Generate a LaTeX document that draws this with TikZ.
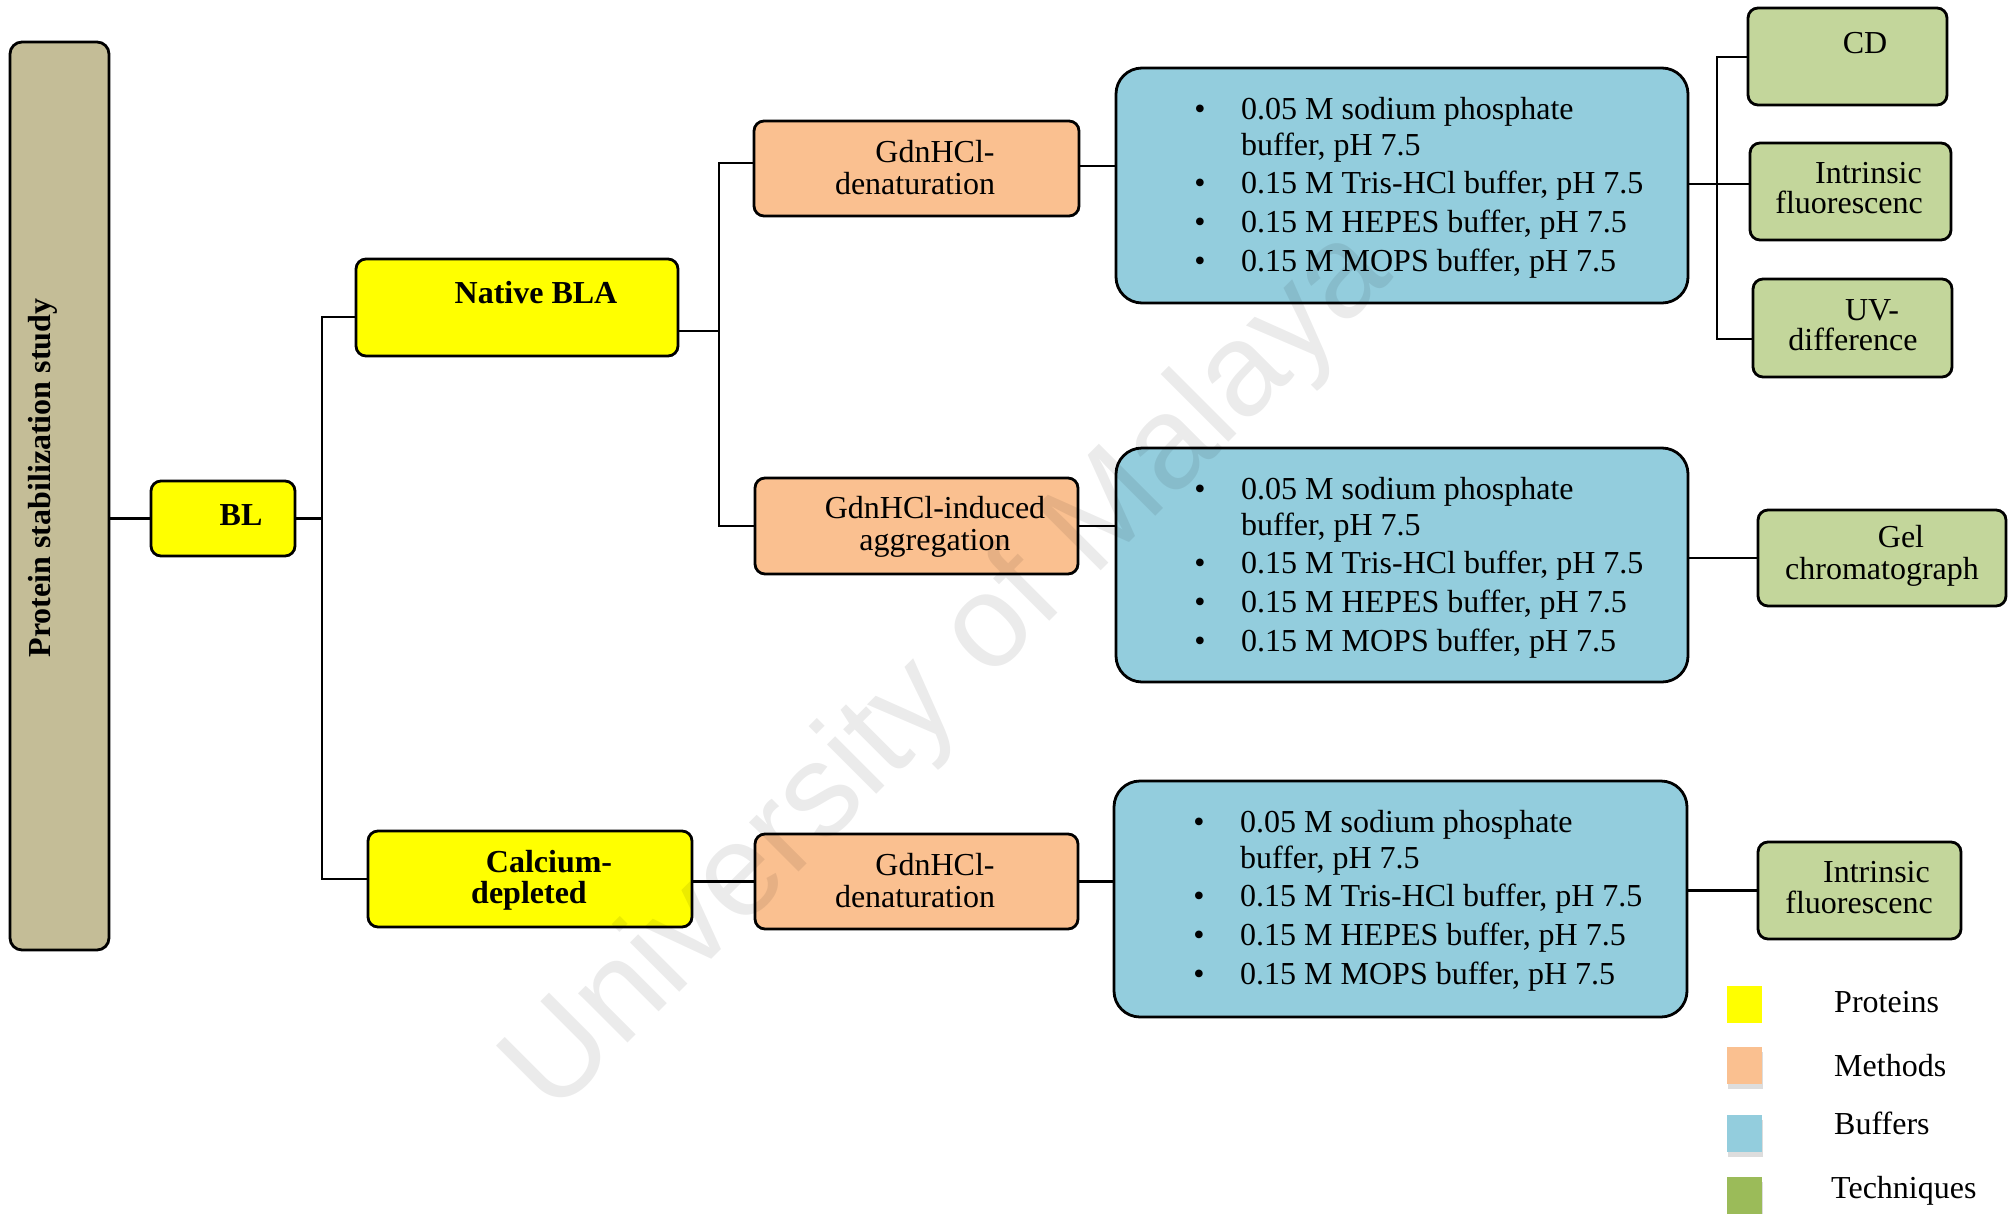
\documentclass[tikz,border=0pt]{standalone}
\usepackage{fontspec}
\setmainfont{Liberation Serif}
\newfontfamily\wmfont{Liberation Sans}
\usetikzlibrary{backgrounds,shadows}
\definecolor{tan}{HTML}{C4BD97}
\definecolor{prot}{HTML}{FFFF00}
\definecolor{meth}{HTML}{FAC090}
\definecolor{buff}{HTML}{93CDDD}
\definecolor{tech}{HTML}{C3D69B}
\definecolor{techleg}{HTML}{9BBB59}
\begin{document}
\begin{tikzpicture}[x=1pt,y=-1pt,
  boxstyle/.style={draw=black, line width=2.8pt, rounded corners=10pt, inner sep=0pt},
  bigbox/.style={boxstyle, rounded corners=26pt, fill=buff},
  txt/.style={font=\fontsize{32pt}{38pt}\selectfont, inner sep=0pt, anchor=base},
  btxt/.style={txt, font=\fontsize{32pt}{38pt}\selectfont\bfseries},
  ltxt/.style={txt, anchor=base west},
  rtxt/.style={txt, anchor=base east},
  conn/.style={line width=2.5pt, draw=black},
  legsq/.style={inner sep=0pt, minimum width=35pt, minimum height=37pt, draw=none},
  legshadow/.style={drop shadow={shadow xshift=1pt, shadow yshift=-5pt, opacity=0.22, fill=black!60}}
]
\useasboundingbox (0,0) rectangle (2013,1213);

% ---- boxes ----
\node[boxstyle, rounded corners=12pt, fill=tan, minimum width=99pt, minimum height=908pt] (ps) at (59.5,496) {};
\node[boxstyle, fill=prot, minimum width=144pt, minimum height=75pt] (bl) at (223,518.5) {};
\node[boxstyle, fill=prot, minimum width=322pt, minimum height=97pt] (nat) at (517,307.5) {};
\node[boxstyle, fill=prot, minimum width=324pt, minimum height=96pt] (cal) at (530,879) {};
\node[boxstyle, fill=meth, minimum width=325pt, minimum height=95pt] (m1) at (916.5,168.5) {};
\node[boxstyle, fill=meth, minimum width=323pt, minimum height=96pt] (m2) at (916.5,526) {};
\node[boxstyle, fill=meth, minimum width=323pt, minimum height=95pt] (m3) at (916.5,881.5) {};
\node[bigbox, minimum width=572pt, minimum height=235pt] (b1) at (1402,185.5) {};
\node[bigbox, minimum width=572pt, minimum height=234pt] (b2) at (1402,565) {};
\node[bigbox, minimum width=573pt, minimum height=236pt] (b3) at (1400.5,899) {};
\node[boxstyle, fill=tech, minimum width=199pt, minimum height=97pt] (cd) at (1847.5,56.5) {};
\node[boxstyle, fill=tech, minimum width=201pt, minimum height=97pt] (if1) at (1850.5,191.5) {};
\node[boxstyle, fill=tech, minimum width=199pt, minimum height=98pt] (uv) at (1852.5,328) {};
\node[boxstyle, fill=tech, minimum width=248pt, minimum height=96pt] (gel) at (1882,558) {};
\node[boxstyle, fill=tech, minimum width=203pt, minimum height=97pt] (if2) at (1859.5,890.5) {};

% ---- junction points ----
\coordinate (j1a) at (322,317);
\coordinate (j1b) at (322,879);
\coordinate (j2a) at (719,163);
\coordinate (j2b) at (719,526);
\coordinate (j3a) at (1717,57);
\coordinate (j3m) at (1717,184);
\coordinate (j3b) at (1717,339);

% ---- connectors ----
\begin{scope}[on background layer]
\draw[conn] (ps.east |- bl.west) -- (bl.west);
\draw[conn] (bl.east) -- (bl.east -| j1a);
\draw[conn] (nat.west |- j1a) -- (j1a) -- (j1b) -- (cal.west);
\draw[conn] ([yshift=-23.5pt]nat.east) -- ([yshift=-23.5pt]nat.east -| j2a);
\draw[conn] (m1.west |- j2a) -- (j2a) -- (j2b) -- (m2.west);
\draw[conn] ([yshift=2.5pt]m1.east) -- ([yshift=2.5pt]m1.east -| b1.west);
\draw[conn] (m2.east) -- (m2.east -| b2.west);
\draw[conn] (m3.west -| cal.east) -- (m3.west);
\draw[conn] (m3.east) -- (m3.east -| b3.west);
\draw[conn] (b1.east |- j3m) -- (if1.west |- j3m);
\draw[conn] (cd.west |- j3a) -- (j3a) -- (j3b) -- (uv.west |- j3b);
\draw[conn] (b2.east |- gel.west) -- (gel.west);
\draw[conn] (b3.east |- if2.west) -- (if2.west);
\end{scope}

% ---- texts ----
\node[btxt, rotate=90] (psT) at (50,478) {Protein stabilization study};
\node[btxt] (blT) at (241,525) {BL};
\node[btxt] (natT) at (536,303) {Native BLA};
\node[btxt] (calT1) at (549,872) {Calcium-};
\node[btxt] (calT2) at (529,903) {depleted};

\node[txt] (m1T1) at (935,162) {GdnHCl-};
\node[txt] (m1T2) at (915,194) {denaturation};
\node[txt] (m2T1) at (935,518) {GdnHCl-induced};
\node[txt] (m2T2) at (935,550) {aggregation};
\node[txt] (m3T1) at (935,875) {GdnHCl-};
\node[txt] (m3T2) at (915,907) {denaturation};

% buffers 1
\node[txt] (b1d1) at (1200,119) {•};
\node[ltxt] (b1l1) at (1241,119) {0.05 M sodium phosphate};
\node[ltxt] (b1l2) at (1241,155) {buffer, pH 7.5};
\node[txt] (b1d3) at (1200,193) {•};
\node[ltxt] (b1l3) at (1241,193) {0.15 M Tris-HCl buffer, pH 7.5};
\node[txt] (b1d4) at (1200,232) {•};
\node[ltxt] (b1l4) at (1241,232) {0.15 M HEPES buffer, pH 7.5};
\node[txt] (b1d5) at (1200,271) {•};
\node[ltxt] (b1l5) at (1241,271) {0.15 M MOPS buffer, pH 7.5};
% buffers 2
\node[txt] (b2d1) at (1200,499) {•};
\node[ltxt] (b2l1) at (1241,499) {0.05 M sodium phosphate};
\node[ltxt] (b2l2) at (1241,535) {buffer, pH 7.5};
\node[txt] (b2d3) at (1200,573) {•};
\node[ltxt] (b2l3) at (1241,573) {0.15 M Tris-HCl buffer, pH 7.5};
\node[txt] (b2d4) at (1200,612) {•};
\node[ltxt] (b2l4) at (1241,612) {0.15 M HEPES buffer, pH 7.5};
\node[txt] (b2d5) at (1200,651) {•};
\node[ltxt] (b2l5) at (1241,651) {0.15 M MOPS buffer, pH 7.5};
% buffers 3
\node[txt] (b3d1) at (1199,832) {•};
\node[ltxt] (b3l1) at (1240,832) {0.05 M sodium phosphate};
\node[ltxt] (b3l2) at (1240,868) {buffer, pH 7.5};
\node[txt] (b3d3) at (1199,906) {•};
\node[ltxt] (b3l3) at (1240,906) {0.15 M Tris-HCl buffer, pH 7.5};
\node[txt] (b3d4) at (1199,945) {•};
\node[ltxt] (b3l4) at (1240,945) {0.15 M HEPES buffer, pH 7.5};
\node[txt] (b3d5) at (1199,984) {•};
\node[ltxt] (b3l5) at (1240,984) {0.15 M MOPS buffer, pH 7.5};

% techniques
\node[txt] (cdT) at (1865,53) {CD};
\node[rtxt] (if1T1) at (1922,183) {Intrinsic};
\node[rtxt] (if1T2) at (1923,213) {fluorescenc};
\node[txt] (uvT1) at (1872,320) {UV-};
\node[txt] (uvT2) at (1853,350) {difference};
\node[txt] (gelT1) at (1901,547) {Gel};
\node[txt] (gelT2) at (1882,579) {chromatograph};
\node[rtxt] (if2T1) at (1930,882) {Intrinsic};
\node[rtxt] (if2T2) at (1933,913) {fluorescenc};

% ---- legend ----
\node[legsq, fill=prot] (lg1) at (1744.5,1004.5) {};
\node[legsq, fill=meth, legshadow] (lg2) at (1744.5,1065.5) {};
\node[legsq, fill=buff, legshadow] (lg3) at (1744.5,1133) {};
\node[legsq, fill=techleg, legshadow, minimum height=40pt] (lg4) at (1744.5,1197) {};
\node[ltxt] (lg1T) at (1834,1012) {Proteins};
\node[ltxt] (lg2T) at (1834,1076) {Methods};
\node[ltxt] (lg3T) at (1834,1134) {Buffers};
\node[ltxt] (lg4T) at (1831,1198) {Techniques};

% ---- watermark ----
\node[inner sep=0pt, rotate=45, text opacity=0.08, font=\wmfont\fontsize{132pt}{132pt}\selectfont] (wm) at (950,673) {University of Malaya};
\end{tikzpicture}
\end{document}
